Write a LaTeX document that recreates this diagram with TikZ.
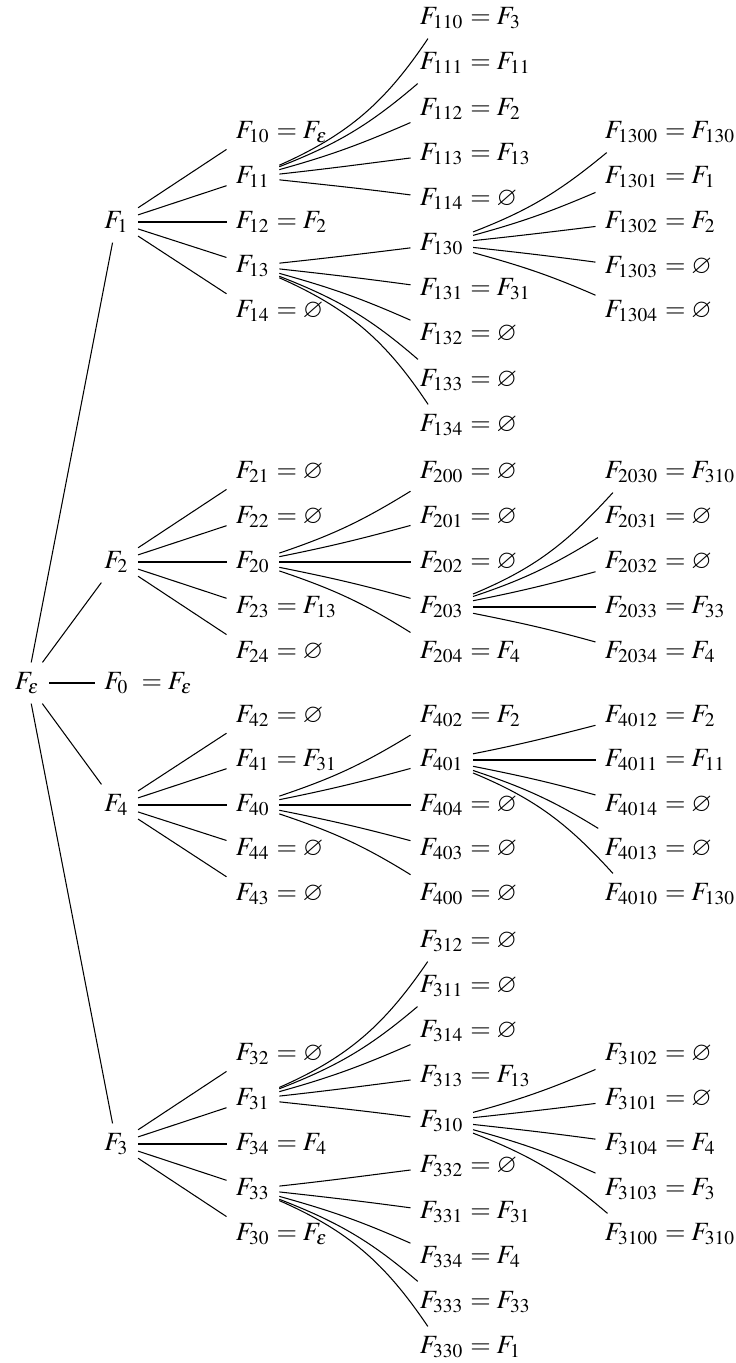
\documentclass[tikz,border=0pt]{standalone}
\usepackage{mathptmx}
\usepackage{amssymb}
\usetikzlibrary{calc}
\tikzset{
  fn/.style={anchor=west, inner xsep=3.33pt, inner ysep=3.33pt, text height=6.8pt, text depth=1.8pt},
  eq/.style={anchor=base west, inner sep=0pt},
  ln/.style={line width=0.4pt, black}
}
\newcommand\fnode[5]{%
  \node[fn] (#1) at (#2,#3) {$F_{#4}$};%
  \if\relax\detokenize{#5}\relax\else
  \node[eq] (#1r) at ([xshift=-1.2pt]#1.base east) {$=#5$};\fi}
\newcommand\cedge[2]{%
  \draw[ln] let \p1=(#1), \p2=(#2), \n1={atan2(\y2-\y1,\x2-\x1)},
    \n2={\n1-\n1*abs(\n1)/100}, \n3={180+\n1+\n1*abs(\n1)/100} in
    (#1) to[out=\n2,in=\n3] (#2);}
\newcommand\sedge[2]{\draw[ln] (#1) -- (#2);}
\begin{document}
\begin{tikzpicture}[x=0.38pt,y=-0.38pt]
\useasboundingbox (0,0) rectangle (735,1363);
% column 0 and 1
\fnode{fe}{5.5}{683}{\epsilon}{}
\fnode{f1}{95}{222}{1}{}
\fnode{f2}{95}{562}{2}{}
\node[fn] (f0) at (95,683) {$F_{0}$};
\node[eq] (f0r) at ([xshift=1.1pt]f0.base east) {$=F_\epsilon$};
\fnode{f4}{95}{805}{4}{}
\fnode{f3}{95}{1144}{3}{}
% column 2
\fnode{f10}{226.5}{132}{10}{F_\epsilon}
\fnode{f11}{226.5}{177}{11}{}
\fnode{f12}{226.5}{222}{12}{F_2}
\fnode{f13}{226.5}{266}{13}{}
\fnode{f14}{226.5}{311}{14}{\varnothing}
\fnode{f21}{226.5}{472}{21}{\varnothing}
\fnode{f22}{226.5}{517}{22}{\varnothing}
\fnode{f20}{226.5}{562}{20}{}
\fnode{f23}{226.5}{607}{23}{F_{13}}
\fnode{f24}{226.5}{652}{24}{\varnothing}
\fnode{f42}{226.5}{716}{42}{\varnothing}
\fnode{f41}{226.5}{760}{41}{F_{31}}
\fnode{f40}{226.5}{805}{40}{}
\fnode{f44}{226.5}{849}{44}{\varnothing}
\fnode{f43}{226.5}{894}{43}{\varnothing}
\fnode{f32}{226.5}{1054}{32}{\varnothing}
\fnode{f31}{226.5}{1099}{31}{}
\fnode{f34}{226.5}{1144}{34}{F_4}
\fnode{f33}{226.5}{1189}{33}{}
\fnode{f30}{226.5}{1234}{30}{F_\epsilon}
% column 3
\fnode{f110}{410.5}{18}{110}{F_3}
\fnode{f111}{410.5}{63}{111}{F_{11}}
\fnode{f112}{410.5}{109}{112}{F_2}
\fnode{f113}{410.5}{154}{113}{F_{13}}
\fnode{f114}{410.5}{199}{114}{\varnothing}
\fnode{f130}{410.5}{244}{130}{}
\fnode{f131}{410.5}{289}{131}{F_{31}}
\fnode{f132}{410.5}{334}{132}{\varnothing}
\fnode{f133}{410.5}{380}{133}{\varnothing}
\fnode{f134}{410.5}{425}{134}{\varnothing}
\fnode{f200}{410.5}{472}{200}{\varnothing}
\fnode{f201}{410.5}{517}{201}{\varnothing}
\fnode{f202}{410.5}{562}{202}{\varnothing}
\fnode{f203}{410.5}{607}{203}{}
\fnode{f204}{410.5}{652}{204}{F_4}
\fnode{f402}{410.5}{716}{402}{F_2}
\fnode{f401}{410.5}{760}{401}{}
\fnode{f404}{410.5}{805}{404}{\varnothing}
\fnode{f403}{410.5}{849}{403}{\varnothing}
\fnode{f400}{410.5}{894}{400}{\varnothing}
\fnode{f312}{410.5}{941}{312}{\varnothing}
\fnode{f311}{410.5}{986}{311}{\varnothing}
\fnode{f314}{410.5}{1031}{314}{\varnothing}
\fnode{f313}{410.5}{1076}{313}{F_{13}}
\fnode{f310}{410.5}{1121}{310}{}
\fnode{f332}{410.5}{1166}{332}{\varnothing}
\fnode{f331}{410.5}{1212}{331}{F_{31}}
\fnode{f334}{410.5}{1257}{334}{F_4}
\fnode{f333}{410.5}{1302}{333}{F_{33}}
\fnode{f330}{410.5}{1347}{330}{F_1}
% column 4
\fnode{f1300}{595.5}{132}{1300}{F_{130}}
\fnode{f1301}{595.5}{177}{1301}{F_1}
\fnode{f1302}{595.5}{222}{1302}{F_2}
\fnode{f1303}{595.5}{267}{1303}{\varnothing}
\fnode{f1304}{595.5}{311}{1304}{\varnothing}
\fnode{f2030}{595.5}{472}{2030}{F_{310}}
\fnode{f2031}{595.5}{517}{2031}{\varnothing}
\fnode{f2032}{595.5}{562}{2032}{\varnothing}
\fnode{f2033}{595.5}{607}{2033}{F_{33}}
\fnode{f2034}{595.5}{652}{2034}{F_4}
\fnode{f4012}{595.5}{716}{4012}{F_2}
\fnode{f4011}{595.5}{760}{4011}{F_{11}}
\fnode{f4014}{595.5}{805}{4014}{\varnothing}
\fnode{f4013}{595.5}{849}{4013}{\varnothing}
\fnode{f4010}{595.5}{894}{4010}{F_{130}}
\fnode{f3102}{595.5}{1054}{3102}{\varnothing}
\fnode{f3101}{595.5}{1099}{3101}{\varnothing}
\fnode{f3104}{595.5}{1144}{3104}{F_4}
\fnode{f3103}{595.5}{1189}{3103}{F_3}
\fnode{f3100}{595.5}{1234}{3100}{F_{310}}
% straight edges
\foreach \c in {f1,f2,f0,f4,f3} {\sedge{fe}{\c}}
\foreach \c in {f10,f11,f12,f13,f14} {\sedge{f1}{\c}}
\foreach \c in {f21,f22,f20,f23,f24} {\sedge{f2}{\c}}
\foreach \c in {f42,f41,f40,f44,f43} {\sedge{f4}{\c}}
\foreach \c in {f32,f31,f34,f33,f30} {\sedge{f3}{\c}}
% curved edges
\foreach \c in {f110,f111,f112,f113,f114} {\cedge{f11}{\c}}
\foreach \c in {f130,f131,f132,f133,f134} {\cedge{f13}{\c}}
\foreach \c in {f200,f201,f202,f203,f204} {\cedge{f20}{\c}}
\foreach \c in {f402,f401,f404,f403,f400} {\cedge{f40}{\c}}
\foreach \c in {f312,f311,f314,f313,f310} {\cedge{f31}{\c}}
\foreach \c in {f332,f331,f334,f333,f330} {\cedge{f33}{\c}}
\foreach \c in {f1300,f1301,f1302,f1303,f1304} {\cedge{f130}{\c}}
\foreach \c in {f2030,f2031,f2032,f2033,f2034} {\cedge{f203}{\c}}
\foreach \c in {f4012,f4011,f4014,f4013,f4010} {\cedge{f401}{\c}}
\foreach \c in {f3102,f3101,f3104,f3103,f3100} {\cedge{f310}{\c}}
\end{tikzpicture}
\end{document}
